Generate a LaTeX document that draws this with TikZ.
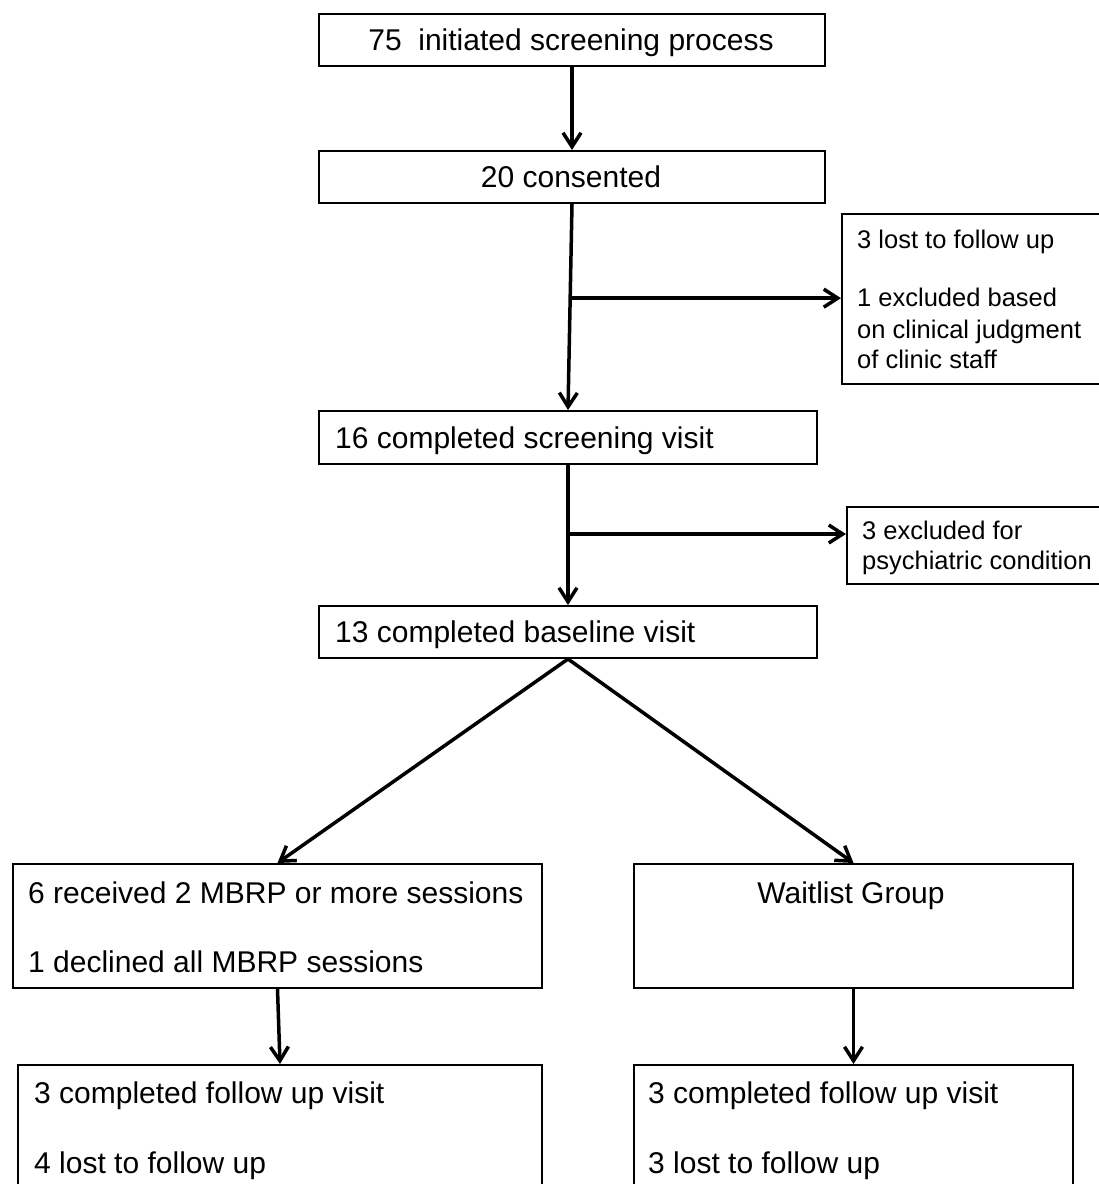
\documentclass[tikz,border=0pt]{standalone}
\usepackage{fontspec}
\setmainfont{Liberation Sans}
\usetikzlibrary{arrows.meta,calc}
\begin{document}
\begin{tikzpicture}[x=1pt,y=-1pt,
  box/.style={draw=black,line width=2pt,inner sep=0pt,anchor=north west},
  txt/.style={inner sep=0pt,anchor=mid west,font=\fontsize{30pt}{36pt}\selectfont,yshift=-8pt},
  ctxt/.style={inner sep=0pt,anchor=mid,font=\fontsize{30pt}{36pt}\selectfont,yshift=-8pt},
  stxt/.style={inner sep=0pt,anchor=mid west,font=\fontsize{25.5pt}{30pt}\selectfont,yshift=-7pt},
  arr/.style={draw=black,line width=3.5pt,-{Straight Barb[length=14pt,width=18pt]}}]
\path[fill=white,use as bounding box] (0,0) rectangle (1099,1184);
% boxes
\node[box,minimum width=506pt,minimum height=52pt] (n1) at (318,13) {};
\node[box,minimum width=506pt,minimum height=52pt] (n2) at (318,150) {};
\node[box,minimum width=265pt,minimum height=170pt] (s1) at (841,213) {};
\node[box,minimum width=498pt,minimum height=53pt] (n3) at (318,410) {};
\node[box,minimum width=260pt,minimum height=77pt] (s2) at (846,506) {};
\node[box,minimum width=498pt,minimum height=52pt] (n4) at (318,605) {};
\node[box,minimum width=529pt,minimum height=124pt] (L) at (12,863) {};
\node[box,minimum width=439pt,minimum height=124pt] (R) at (633,863) {};
\node[box,minimum width=524pt,minimum height=126pt] (BL) at (17,1064) {};
\node[box,minimum width=439pt,minimum height=126pt] (BR) at (633,1064) {};
% texts
\node[ctxt] (t1) at (571,40) {75\ \ initiated screening process};
\node[ctxt] (t2) at (571,177) {20 consented};
\node[stxt] (s1a) at (857,239) {3 lost to follow up};
\node[stxt] (s1b) at (857,297) {1 excluded based};
\node[stxt] (s1c) at (857,329) {on clinical judgment};
\node[stxt] (s1d) at (857,359) {of clinic staff};
\node[txt] (t3) at (335,438) {16 completed screening visit};
\node[stxt] (s2a) at (862,530) {3 excluded for};
\node[stxt] (s2b) at (862,560) {psychiatric condition};
\node[txt] (t4) at (335,632) {13 completed baseline visit};
\node[txt] (La) at (28,893) {6 received 2 MBRP or more sessions};
\node[txt] (Lb) at (28,962) {1 declined all MBRP sessions};
\node[ctxt] (Ra) at (851,893) {Waitlist Group};
\node[txt] (BLa) at (34,1093) {3 completed follow up visit};
\node[txt] (BLb) at (34,1163) {4 lost to follow up};
\node[txt] (BRa) at (648,1093) {3 completed follow up visit};
\node[txt] (BRb) at (648,1163) {3 lost to follow up};
% connectors
\draw[arr] (n1.south) -- (n2.north);
\draw[arr] (n2.south) -- (n3.north);
\coordinate (b1) at ($(n2.south)!0.457!(n3.north)$);
\draw[arr] (b1) -- (b1 -| s1.west);
\draw[arr] (n3.south) -- (n4.north);
\coordinate (b2) at ($(n3.south)!0.493!(n4.north)$);
\draw[arr] (b2) -- (b2 -| s2.west);
\draw[arr] (n4.south) -- (L.north);
\draw[arr] (n4.south) -- (R.north);
\draw[arr] (L.south) -- (BL.north);
\draw[arr] (R.south) -- (BR.north);
\end{tikzpicture}
\end{document}
